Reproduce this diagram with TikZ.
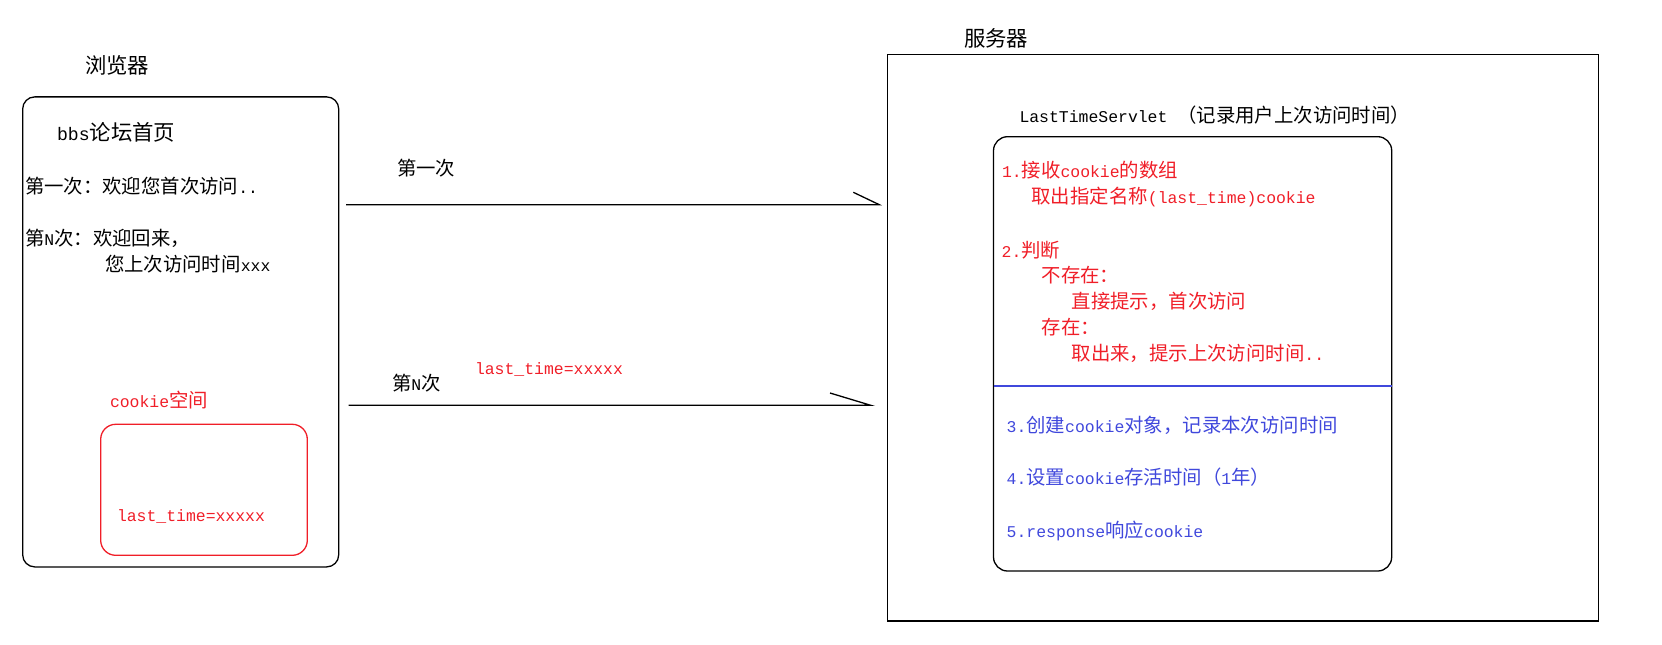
\documentclass[tikz,border=0pt]{standalone}
\usepackage{fontspec}
\setmainfont{Liberation Mono}
\newfontfamily\zhfont{Noto Sans CJK SC}[Scale=1.18]
\newcommand\zh[1]{{\zhfont #1}}
\definecolor{myred}{RGB}{240,30,40}
\definecolor{myblue}{RGB}{64,72,220}
\begin{document}
\begin{tikzpicture}[x=1bp,y=-1bp,
  txt/.style={anchor=base west, inner sep=0, outer sep=0, font=\fontsize{16.5}{20}\selectfont},
  bigtxt/.style={txt, font=\fontsize{18.2}{22}\selectfont},
  redtxt/.style={txt, text=myred},
  bluetxt/.style={txt, text=myblue},
  rbox/.style={draw, line width=1.3bp, inner sep=0, outer sep=0},
  conn/.style={draw, line width=1.3bp},
]
\useasboundingbox (0,0) rectangle (1662,645);

% boxes
\node[rbox, rounded corners=12bp, minimum width=316bp, minimum height=470bp] (browser) at (180.7,331.9) {};
\node[rbox, draw=myred, rounded corners=15bp, minimum width=206.6bp, minimum height=131bp] (cookiebox) at (204,489.8) {};
\node[rbox, minimum width=710.6bp, minimum height=566.5bp] (server) at (1243,337.8) {};
\node[rbox, rounded corners=14bp, minimum width=398.2bp, minimum height=434.3bp] (servlet) at (1192.6,353.85) {};
\draw[line width=1.2bp, myblue] (servlet.west |- 0,386) coordinate (sepL) -- (servlet.east |- 0,386) coordinate (sepR);

% browser texts
\node[bigtxt] (lblbrowser) at (85,74) {\zh{浏览器}};
\node[bigtxt] (lblbbs) at (57,140.5) {bbs\zh{论坛首页}};
\node[txt] (t1) at (25,194) {\zh{第一次：欢迎您首次访问}..};
\node[txt] (t2) at (25,246) {\zh{第}N\zh{次：欢迎回来，}};
\node[txt] (t3) at (105,271) {\zh{您上次访问时间}xxx};
\node[redtxt] (lblcookie) at (110,407) {cookie\zh{空间}};
\node[redtxt] (cookieval) at (117,521.5) {last\_time=xxxxx};

% arrows
\coordinate (a1s) at (346,204.7);
\coordinate (a1e) at (879.3,204.7);
\coordinate (a1h) at (853.3,192.3);
\coordinate (a2s) at (348.6,405.3);
\coordinate (a2e) at (870.7,405.3);
\coordinate (a2h) at (830,393);
\draw[conn] (a1s) -- (a1e) -- (a1h);
\draw[conn] (a2s) -- (a2e) -- (a2h);
\node[txt] (lbl1) at (397,176) {\zh{第一次}};
\node[txt] (lblN) at (392,390) {\zh{第}N\zh{次}};
\node[redtxt] (lblval) at (475,374.5) {last\_time=xxxxx};

% server texts
\node[bigtxt] (lblserver) at (964,47) {\zh{服务器}};
\node[txt] (lblservlet) at (1019.5,123) {LastTimeServlet \zh{（记录用户上次访问时间）}};
\node[redtxt] (s1) at (1002,178) {1.\zh{接收}cookie\zh{的数组}};
\node[redtxt] (s1b) at (1031.5,204) {\zh{取出指定名称}(last\_time)cookie};
\node[redtxt] (s2) at (1001.7,257) {2.\zh{判断}};
\node[redtxt] (s2a) at (1041.7,282) {\zh{不存在：}};
\node[redtxt] (s2b) at (1071.7,308) {\zh{直接提示，首次访问}};
\node[redtxt] (s2c) at (1041.7,334) {\zh{存在：}};
\node[redtxt] (s2d) at (1071.7,360) {\zh{取出来，提示上次访问时间}..};
\node[bluetxt] (s3) at (1006.7,432) {3.\zh{创建}cookie\zh{对象，记录本次访问时间}};
\node[bluetxt] (s4) at (1006.7,484) {4.\zh{设置}cookie\zh{存活时间（}1\zh{年）}};
\node[bluetxt] (s5) at (1006.7,537) {5.response\zh{响应}cookie};
\end{tikzpicture}
\end{document}
